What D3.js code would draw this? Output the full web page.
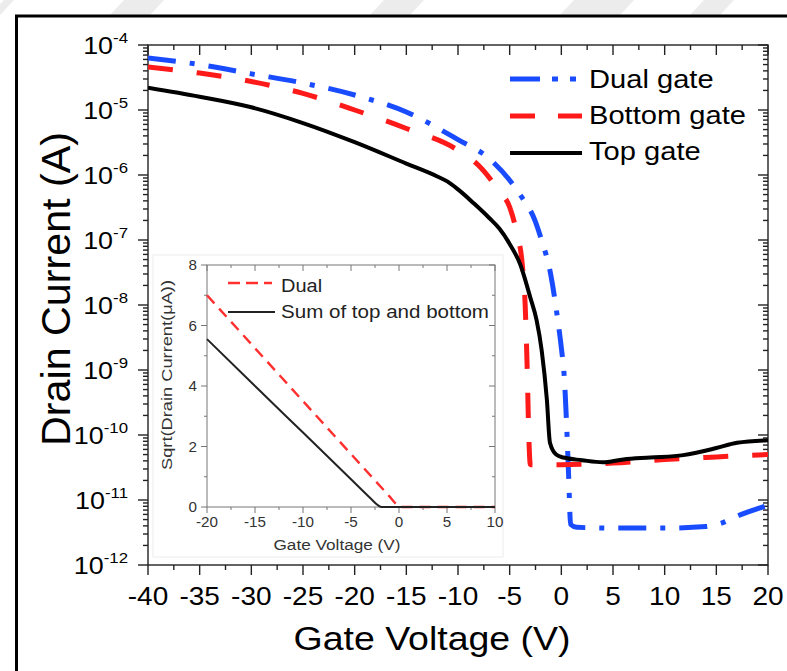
<!DOCTYPE html>
<html><head><meta charset="utf-8">
<script src="https://cdn.jsdelivr.net/npm/d3@7"></script>
<style>html,body{margin:0;padding:0;background:#fff;}svg{display:block;font-family:"Liberation Sans",Arial,sans-serif;}</style>
</head><body>
<svg id="c" width="787" height="671"></svg>
<script>
// ---------- data ----------
const dualV = [-40,-35,-30,-25,-20,-15,-10,-7,-5,-4,-2.5,-2,-1,-0.3,0,0.3,0.5,0.7,0.9,1.5,5,10,14,15.5,17.3,20];
const dualI = [6.3e-5,5.0e-5,3.6e-5,2.6e-5,1.7e-5,9.3e-6,3.5e-6,1.8e-6,8.3e-7,5.0e-7,1.9e-7,1.1e-7,2.8e-8,5.2e-9,2.2e-9,7.1e-10,1.6e-10,2.5e-11,4.2e-12,3.8e-12,3.7e-12,3.7e-12,3.9e-12,4.4e-12,5.9e-12,8.3e-12];
const bottomV = [-40,-35,-30,-25,-20,-15,-10,-8,-6,-5,-4.3,-3.8,-3.5,-3.3,-3.15,-3.0,0,5,10,15,20];
const bottomI = [4.6e-5,3.7e-5,2.75e-5,1.8e-5,1.0e-5,5.2e-6,2.4e-6,1.4e-6,5.6e-7,3.2e-7,1.26e-7,4.5e-8,1.0e-8,1.0e-9,1.0e-10,3.5e-11,3.5e-11,3.7e-11,4.2e-11,4.6e-11,5.0e-11];
const topV = [-40,-35,-30,-25,-20,-15,-12,-11,-10,-8.5,-7,-6,-5,-4,-3,-2.4,-1.9,-1.4,-1.1,-0.5,0.2,2,4,6,8.6,11.8,15,17,20];
const topI = [2.2e-5,1.6e-5,1.1e-5,6.3e-6,3.2e-6,1.5e-6,9.5e-7,7.9e-7,6.0e-7,3.7e-7,2.2e-7,1.5e-7,8.7e-8,4.3e-8,1.3e-8,5.9e-9,2.0e-9,3.5e-10,7.6e-11,5.0e-11,4.5e-11,4.1e-11,3.8e-11,4.2e-11,4.5e-11,4.9e-11,6.3e-11,7.6e-11,8.3e-11];
const seriesNames = ["Dual gate","Bottom gate","Top gate"];
const xTicks = [-40,-35,-30,-25,-20,-15,-10,-5,0,5,10,15,20];
const yExps = [-4,-5,-6,-7,-8,-9,-10,-11,-12];

// inset
const insDualV = [-20,-15,-10,-5,-1,-0.3,0.2,10];
const insDualS = [7.0,5.25,3.5,1.75,0.35,0.1,0,0];
const insSumV = [-20,-15,-10,-5,-3,-2.2,-1.8,10];
const insSumS = [5.55,4.0,2.46,0.92,0.3,0.06,0,0];
const insNames = ["Dual","Sum of top and bottom"];
const insXTicks = [-20,-15,-10,-5,0,5,10];
const insYTicks = [0,2,4,6,8];

// ---------- drawing ----------
const svg = d3.select("#c");
const SX = 1.12; // horizontal stretch of the picture's type

function txt(g, x, y, s, size, anchor, opts={}) {
  const t = g.append("text").attr("transform", `translate(${x},${y}) scale(${opts.sx||SX},1)` + (opts.rot?` rotate(${opts.rot})`:""))
    .attr("text-anchor", anchor).attr("font-size", size).attr("fill", opts.fill||"#000").text(s);
  if (opts.len) t.attr("textLength", opts.len).attr("lengthAdjust","spacingAndGlyphs");
  return t;
}

// faint watermark stripes at top
[[0,-10],[110,40],[370,40],[560,60],[690,30]].forEach(([x0,w])=>{
  svg.append("polygon").attr("points",`${x0+14},0 ${x0+14+w},0 ${x0+w},15 ${x0},15`).attr("fill","#ececec");
});
// figure border
svg.append("line").attr("x1",15).attr("x2",787).attr("y1",16).attr("y2",16).attr("stroke","#000").attr("stroke-width",3);
svg.append("line").attr("x1",16.5).attr("x2",16.5).attr("y1",15).attr("y2",671).attr("stroke","#000").attr("stroke-width",3);

const x = d3.scaleLinear().domain([-40,20]).range([148,768]);
const y = d3.scaleLog().domain([1e-12,1e-4]).range([565,45]);

const axG = svg.append("g").attr("stroke","#222").attr("stroke-width",1.4);
const xMinor = d3.range(-37.5,20,5);
const yMinor = [];
for (let e=-12;e<-4;e++) for (let m=2;m<=9;m++) yMinor.push(m*Math.pow(10,e));
xTicks.forEach(v=>{ axG.append("line").attr("x1",x(v)).attr("x2",x(v)).attr("y1",565).attr("y2",575);
  axG.append("line").attr("x1",x(v)).attr("x2",x(v)).attr("y1",45).attr("y2",55); });
xMinor.forEach(v=>{ axG.append("line").attr("x1",x(v)).attr("x2",x(v)).attr("y1",565).attr("y2",570);
  axG.append("line").attr("x1",x(v)).attr("x2",x(v)).attr("y1",45).attr("y2",50); });
yExps.forEach(e=>{ const p=y(Math.pow(10,e));
  axG.append("line").attr("x1",138).attr("x2",148).attr("y1",p).attr("y2",p);
  axG.append("line").attr("x1",758).attr("x2",768).attr("y1",p).attr("y2",p); });
yMinor.forEach(v=>{ const p=y(v);
  axG.append("line").attr("x1",143).attr("x2",148).attr("y1",p).attr("y2",p);
  axG.append("line").attr("x1",763).attr("x2",768).attr("y1",p).attr("y2",p); });
axG.append("rect").attr("x",148).attr("y",45).attr("width",620).attr("height",520).attr("fill","none");

xTicks.forEach(v=> txt(svg, x(v), 605, String(v), 25, "middle"));
yExps.forEach(e=>{
  const t = svg.append("text").attr("transform",`translate(128,${y(Math.pow(10,e))+9}) scale(${SX},1)`)
    .attr("text-anchor","end").attr("font-size",24);
  t.append("tspan").text("10");
  t.append("tspan").attr("font-size",15).attr("dy",-11).text(String(e));
});
txt(svg, 432, 650, "Gate Voltage (V)", 33, "middle", {len:277/SX});
txt(svg, 70, 289, "Drain Current (A)", 36, "middle", {rot:-90, len:314});

const line = d3.line().x(d=>x(d[0])).y(d=>y(d[1])).curve(d3.curveMonotoneX);
const zip = (a,b)=>a.map((v,i)=>[v,b[i]]);
const styles = [
  {c:"#1a4cff", w:5, dash:"28 14 5 14", data:zip(dualV,dualI)},
  {c:"#ff1a1a", w:5, dash:"25 24", data:zip(bottomV,bottomI)},
  {c:"#000", w:4, dash:null, data:zip(topV,topI)}
];
svg.append("clipPath").attr("id","pc").append("rect").attr("x",148).attr("y",45).attr("width",620).attr("height",520);
styles.forEach(s=>{
  const p = svg.append("path").attr("d",line(s.data)).attr("fill","none").attr("stroke",s.c)
    .attr("stroke-width",s.w).attr("stroke-linejoin","round").attr("clip-path","url(#pc)");
  if (s.dash) p.attr("stroke-dasharray",s.dash);
});
const legY = [79,116,153], legT=[88,124,160];
styles.forEach((s,i)=>{
  const l = svg.append("line").attr("x1",510).attr("x2",582).attr("y1",legY[i]).attr("y2",legY[i])
    .attr("stroke",s.c).attr("stroke-width",s.w);
  if (i===0) l.attr("stroke-dasharray","30 12 6 12 6 20");
  if (i===1) l.attr("stroke-dasharray","25 23");
  txt(svg, 589, legT[i], seriesNames[i], 26, "start");
});

// ---------- inset ----------
svg.append("rect").attr("x",153).attr("y",255).attr("width",350).attr("height",302).attr("fill","#fff").attr("stroke","#ececec").attr("stroke-width",1);
const ix = d3.scaleLinear().domain([-20,10]).range([207,495]);
const iy = d3.scaleLinear().domain([0,8]).range([507,265]);
const iax = svg.append("g").attr("stroke","#777").attr("stroke-width",1);
insXTicks.forEach(v=>{ iax.append("line").attr("x1",ix(v)).attr("x2",ix(v)).attr("y1",507).attr("y2",513);
  iax.append("line").attr("x1",ix(v)).attr("x2",ix(v)).attr("y1",265).attr("y2",271); });
d3.range(-17.5,10,5).forEach(v=>{ iax.append("line").attr("x1",ix(v)).attr("x2",ix(v)).attr("y1",507).attr("y2",510);
  iax.append("line").attr("x1",ix(v)).attr("x2",ix(v)).attr("y1",265).attr("y2",268); });
insYTicks.forEach(v=>{ iax.append("line").attr("x1",201).attr("x2",207).attr("y1",iy(v)).attr("y2",iy(v));
  iax.append("line").attr("x1",489).attr("x2",495).attr("y1",iy(v)).attr("y2",iy(v)); });
[1,3,5,7].forEach(v=>{ iax.append("line").attr("x1",204).attr("x2",207).attr("y1",iy(v)).attr("y2",iy(v));
  iax.append("line").attr("x1",492).attr("x2",495).attr("y1",iy(v)).attr("y2",iy(v)); });
iax.append("rect").attr("x",207).attr("y",265).attr("width",288).attr("height",242).attr("fill","none");
insXTicks.forEach(v=> txt(svg, ix(v), 527, String(v), 14.5, "middle", {fill:"#333", sx:1.05}));
insYTicks.forEach(v=> txt(svg, 197, iy(v)+5, String(v), 14.5, "end", {fill:"#333", sx:1.05}));
txt(svg, 337, 550, "Gate Voltage (V)", 15, "middle", {fill:"#333", len:127/1.05, sx:1.05});
txt(svg, 172, 375, "Sqrt(Drain Current(\u03bcA))", 14, "middle", {fill:"#333", rot:-90, len:190, sx:1.05});

const iline = d3.line().x(d=>ix(d[0])).y(d=>iy(d[1])).curve(d3.curveMonotoneX);
svg.append("path").attr("d",iline(zip(insDualV,insDualS))).attr("fill","none").attr("stroke","#ff3030")
  .attr("stroke-width",2.4).attr("stroke-dasharray","11 7");
svg.append("path").attr("d",iline(zip(insSumV,insSumS))).attr("fill","none").attr("stroke","#222")
  .attr("stroke-width",2);
svg.append("line").attr("x1",228).attr("x2",272).attr("y1",283).attr("y2",283).attr("stroke","#ff3030").attr("stroke-width",2.4).attr("stroke-dasharray","12 6");
svg.append("line").attr("x1",228).attr("x2",275).attr("y1",312).attr("y2",312).attr("stroke","#222").attr("stroke-width",2);
txt(svg, 281, 292, insNames[0], 18.5, "start", {fill:"#222", sx:1.08});
txt(svg, 281, 318, insNames[1], 18.5, "start", {fill:"#222", len:208/1.08, sx:1.08});
</script>
</body></html>
